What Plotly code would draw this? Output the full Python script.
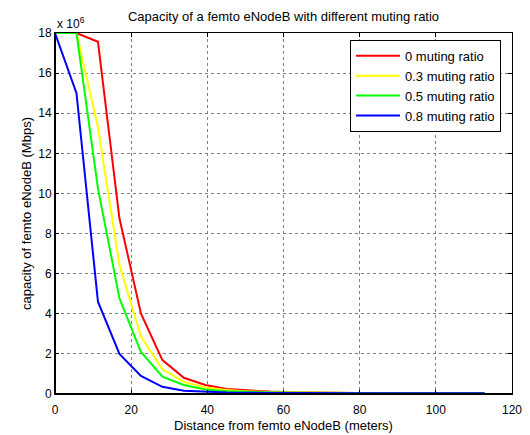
import plotly.graph_objects as go

distance = [0, 5.64, 11.28, 16.92, 22.56, 28.2, 33.84, 39.48, 45.12, 50.76, 56.4,
            62.04, 67.68, 73.32, 78.96, 84.6, 90.24, 95.88, 101.52, 107.16, 112.8]
# capacity in units of 1e6 Mbps
cap_0 = [18, 18, 17.56, 8.76, 4.02, 1.69, 0.81, 0.45, 0.25, 0.17, 0.12,
         0.09, 0.07, 0.06, 0.05, 0.05, 0.04, 0.04, 0.04, 0.04, 0.04]
cap_03 = [18, 18, 13.3, 6.43, 2.86, 1.23, 0.6, 0.33, 0.2, 0.13, 0.1,
          0.08, 0.06, 0.05, 0.05, 0.04, 0.04, 0.04, 0.04, 0.04, 0.04]
cap_05 = [18, 18, 10.25, 4.77, 2.1, 0.86, 0.45, 0.22, 0.14, 0.1, 0.08,
          0.06, 0.05, 0.05, 0.04, 0.04, 0.04, 0.04, 0.04, 0.04, 0.04]
cap_08 = [18, 15.0, 4.6, 2.0, 0.9, 0.36, 0.16, 0.1, 0.07, 0.06, 0.05,
          0.05, 0.04, 0.04, 0.04, 0.04, 0.04, 0.04, 0.04, 0.04, 0.04]

series = [("0 muting ratio", cap_0, "#ff0000"),
          ("0.3 muting ratio", cap_03, "#ffff00"),
          ("0.5 muting ratio", cap_05, "#00ff00"),
          ("0.8 muting ratio", cap_08, "#0000ff")]

x_ticks = [0, 20, 40, 60, 80, 100, 120]
y_ticks = [0, 2, 4, 6, 8, 10, 12, 14, 16, 18]

fig = go.Figure()
for name, vals, col in series:
    fig.add_trace(go.Scatter(x=distance, y=vals, mode="lines", name=name,
                             line=dict(color=col, width=2)))

FAM = "Liberation Sans, Arial, sans-serif"
tick_font = dict(family=FAM, size=12, color="black")
lab_font = dict(family=FAM, size=13, color="black")
axis_common = dict(showline=True, linecolor="black", linewidth=1, mirror="ticks",
                   ticks="inside", ticklen=4, tickcolor="black",
                   showgrid=True, gridcolor="#808080", gridwidth=1, griddash="dot",
                   zeroline=False, tickfont=tick_font, automargin=False)

fig.update_layout(
    width=530, height=435,
    margin=dict(l=55, r=18, t=33, b=41),
    paper_bgcolor="white", plot_bgcolor="white",
    font=lab_font,
    title=dict(text="Capacity of a femto eNodeB with different muting ratio",
               x=(55 + 512) / 2 / 530, xanchor="center", y=1 - 16 / 435, yanchor="middle",
               font=lab_font),
    xaxis=dict(range=[0, 120], tickvals=x_ticks, ticklabelstandoff=5,
               title=dict(text="Distance from femto eNodeB (meters)", standoff=4, font=lab_font),
               **axis_common),
    yaxis=dict(range=[0, 18], tickvals=y_ticks,
               title=dict(text="capacity of femto eNodeB (Mbps)", standoff=3, font=lab_font),
               **axis_common),
    legend=dict(x=0.6455, y=0.981, xanchor="left", yanchor="top",
                bordercolor="black", borderwidth=1, bgcolor="white",
                font=dict(family=FAM, size=13, color="black"),
                tracegroupgap=0, itemwidth=44),
    showlegend=True,
)

fig.add_annotation(text="x 10<sup>6</sup>", xref="paper", yref="paper", x=0, y=1,
                   xanchor="left", yanchor="bottom", showarrow=False, font=tick_font, yshift=0)

# thicker left and bottom axis lines
fig.add_shape(type="line", xref="paper", yref="paper", x0=0, x1=0, y0=0, y1=1,
              line=dict(color="black", width=2))
fig.add_shape(type="line", xref="paper", yref="paper", x0=0, x1=1, y0=0, y1=0,
              line=dict(color="black", width=2))

fig.write_html("out.html")
